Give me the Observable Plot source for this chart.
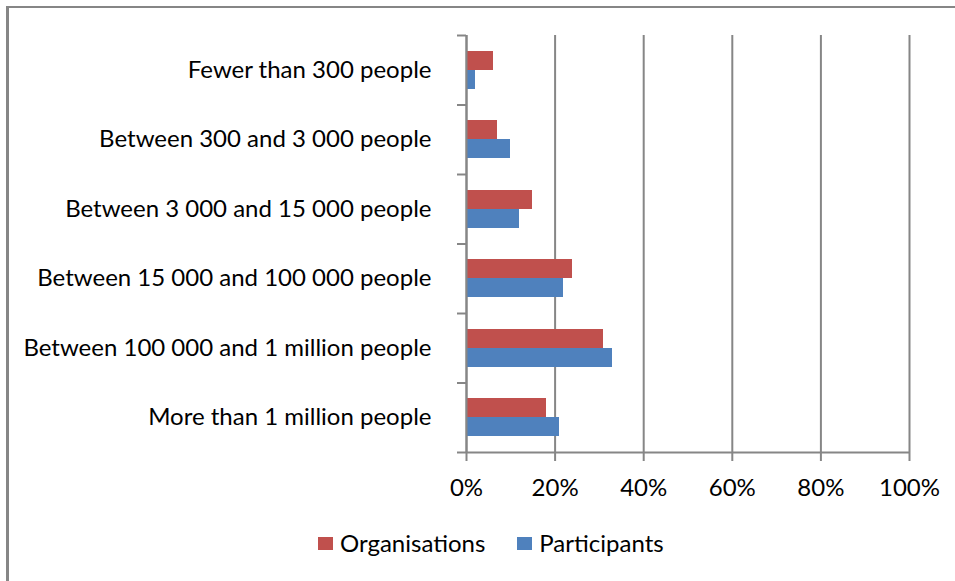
<!DOCTYPE html>
<html><head><meta charset="utf-8">
<script src="https://cdn.jsdelivr.net/npm/d3@7"></script>
<script src="https://cdn.jsdelivr.net/npm/@observablehq/plot@0.6"></script>
<style>
html,body{margin:0;padding:0;background:#fff;}
#wrap{position:relative;width:955px;height:581px;overflow:hidden;font-family:Lato,"Liberation Sans",Arial,sans-serif;}
#chart{position:absolute;left:0;top:0;}
#legend{position:absolute;left:318px;top:530px;height:26px;display:flex;align-items:center;font-size:24px;color:#000;line-height:26px;}
.item{display:flex;align-items:center;margin-right:32px;}
.sw{display:inline-block;width:15px;height:13px;margin-right:7px;}
#border{position:absolute;left:6px;top:6px;width:1000px;height:600px;border-left:3px solid #868686;border-top:2px solid #868686;pointer-events:none;}
</style></head>
<body>
<div id="wrap">
  <div id="chart"></div>
  <div id="legend"></div>
  <div id="border"></div>
</div>
<script>
const categories = [
  "Fewer than 300 people",
  "Between 300 and 3 000 people",
  "Between 3 000 and 15 000 people",
  "Between 15 000 and 100 000 people",
  "Between 100 000 and 1 million people",
  "More than 1 million people"
];
const series = ["Organisations", "Participants"];
const organisations = [0.06, 0.07, 0.15, 0.24, 0.31, 0.18];
const participants = [0.02, 0.10, 0.12, 0.22, 0.33, 0.21];
const xTicks = [0, 0.2, 0.4, 0.6, 0.8, 1];
const colors = ["#C0504D", "#4F81BD"];

const values = [organisations, participants];
const gridColor = "#868686";
const FONT_FAMILY = 'Lato, "Liberation Sans", Arial, sans-serif';
const BAR = 0.274;                              // bar thickness, fraction of a category band
const GAP = (1 - series.length * BAR) / 2;      // empty space above/below each bar group

const rows = categories.flatMap((c, i) => series.map((s, j) => ({
  category: c, series: s, value: values[j][i],
  y1: i + GAP + j * BAR, y2: i + GAP + (j + 1) * BAR
})));

const plot = Plot.plot({
  width: 955, height: 515,
  marginLeft: 466, marginRight: 46, marginTop: 35, marginBottom: 63,
  style: {fontFamily: FONT_FAMILY, fontSize: "24px", color: "#000", background: "transparent", overflow: "visible"},
  x: {domain: [0, 1]},
  y: {domain: [0, categories.length], reverse: true},
  color: {domain: series, range: colors},
  marks: [
    Plot.gridX(xTicks, {stroke: gridColor, strokeOpacity: 1, strokeWidth: 2}),
    Plot.rect(rows, {x1: 0, x2: "value", y1: "y1", y2: "y2", fill: "series", shapeRendering: "crispEdges"}),
    Plot.ruleX([0], {stroke: gridColor, strokeWidth: 2}),
    Plot.ruleY([categories.length], {stroke: gridColor, strokeWidth: 2}),
    Plot.axisX(xTicks, {tickSize: 9, tickPadding: 17, tickFormat: d3.format(".0%"), stroke: gridColor, strokeWidth: 2, strokeOpacity: 1, fill: "#000", fontSize: 24, label: null}),
    Plot.axisY(d3.range(categories.length + 1), {tickSize: 9, tickFormat: () => "", stroke: gridColor, strokeWidth: 2, strokeOpacity: 1, label: null}),
    Plot.axisY(d3.range(categories.length).map(i => i + 0.5), {tickSize: 0, tickPadding: 35, tickFormat: d => categories[Math.floor(d)], fill: "#000", fontSize: 24, label: null})
  ]
});
document.getElementById("chart").appendChild(plot);

const legend = d3.select("#legend");
series.forEach((s, j) => {
  const it = legend.append("div").attr("class", "item");
  it.append("span").attr("class", "sw").style("background", colors[j]);
  it.append("span").text(s);
});
</script>
</body></html>
